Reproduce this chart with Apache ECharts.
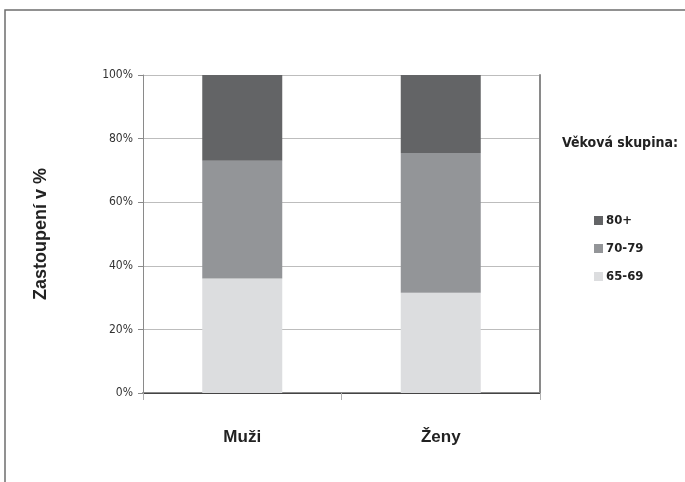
<!DOCTYPE html>
<html>
<head>
<meta charset="utf-8">
<script src="https://cdn.jsdelivr.net/npm/echarts@6/dist/echarts.min.js"></script>
<style>
  html, body { margin: 0; padding: 0; background: #fff; }
  #main { width: 685px; height: 482px; }
</style>
</head>
<body>
<div id="main"></div>
<script>
var categories = ['Muži', 'Ženy'];
var age6569 = [36, 31.5];
var age7079 = [37, 44];
var age80 = [27, 24.5];
var yTicks = [0, 20, 40, 60, 80, 100];

var chart = echarts.init(document.getElementById('main'));

var narrow = '"DejaVu Sans Condensed", sans-serif';
var arial = '"Liberation Sans", Arial, sans-serif';

var option = {
    animation: false,
    backgroundColor: '#fff',
    title: {
        text: 'Věková skupina:',
        left: 557,
        top: 131,
        textStyle: { fontFamily: narrow, fontSize: 14, fontWeight: 'bold', color: '#222' }
    },
    legend: {
        orient: 'vertical',
        left: 589,
        top: 209,
        itemWidth: 9,
        itemHeight: 9,
        itemGap: 15,
        icon: 'rect',
        data: ['80+', '70-79', '65-69'],
        textStyle: { fontFamily: narrow, fontSize: 13, fontWeight: 'bold', color: '#222', padding: [0, 0, 0, -2] }
    },
    grid: { left: 143, top: 75, right: 145, bottom: 89 },
    xAxis: [{
        type: 'category',
        data: categories,
        axisLine: { lineStyle: { color: '#8a8a8a', width: 2 } },
        axisTick: { show: true, length: 7, lineStyle: { color: '#b0b0b0' } },
        axisLabel: { margin: 36, fontFamily: arial, fontSize: 17, fontWeight: 'bold', color: '#222' }
    }, {
        type: 'category',
        position: 'top',
        data: categories,
        axisLine: { lineStyle: { color: '#444', width: 1 } },
        axisTick: { show: false },
        axisLabel: { show: false }
    }],
    yAxis: [{
        type: 'value',
        min: 0,
        max: 100,
        interval: 20,
        name: 'Zastoupení v %',
        nameLocation: 'middle',
        nameGap: 93,
        nameTextStyle: { fontFamily: arial, fontSize: 18, fontWeight: 'bold', color: '#222' },
        axisLine: { show: true, lineStyle: { color: '#8a8a8a', width: 1 } },
        axisTick: { show: true, length: 5, lineStyle: { color: '#8a8a8a' } },
        axisLabel: {
            margin: 10,
            fontFamily: narrow,
            fontSize: 12,
            color: '#333',
            formatter: function (v) { return yTicks.indexOf(v) >= 0 ? v + '%' : ''; }
        },
        splitLine: { lineStyle: { color: '#bdbdbd', width: 1 } }
    }, {
        type: 'value',
        position: 'right',
        min: 0,
        max: 100,
        interval: 20,
        axisLine: { show: true, lineStyle: { color: '#8a8a8a', width: 2 } },
        axisTick: { show: false },
        axisLabel: { show: false },
        splitLine: { show: false }
    }],
    series: [{
        name: '65-69',
        type: 'bar',
        stack: 'total',
        barWidth: 80,
        data: age6569,
        itemStyle: { color: '#dcdddf' }
    }, {
        name: '70-79',
        type: 'bar',
        stack: 'total',
        barWidth: 80,
        data: age7079,
        itemStyle: { color: '#939598' }
    }, {
        name: '80+',
        type: 'bar',
        stack: 'total',
        barWidth: 80,
        data: age80,
        itemStyle: { color: '#636466' }
    }],
    graphic: [{
        type: 'rect',
        shape: { x: 5, y: 10, width: 800, height: 600 },
        style: { fill: 'none', stroke: '#6e6e6e', lineWidth: 1.5 },
        silent: true
    }]
};

chart.setOption(option);
</script>
</body>
</html>
